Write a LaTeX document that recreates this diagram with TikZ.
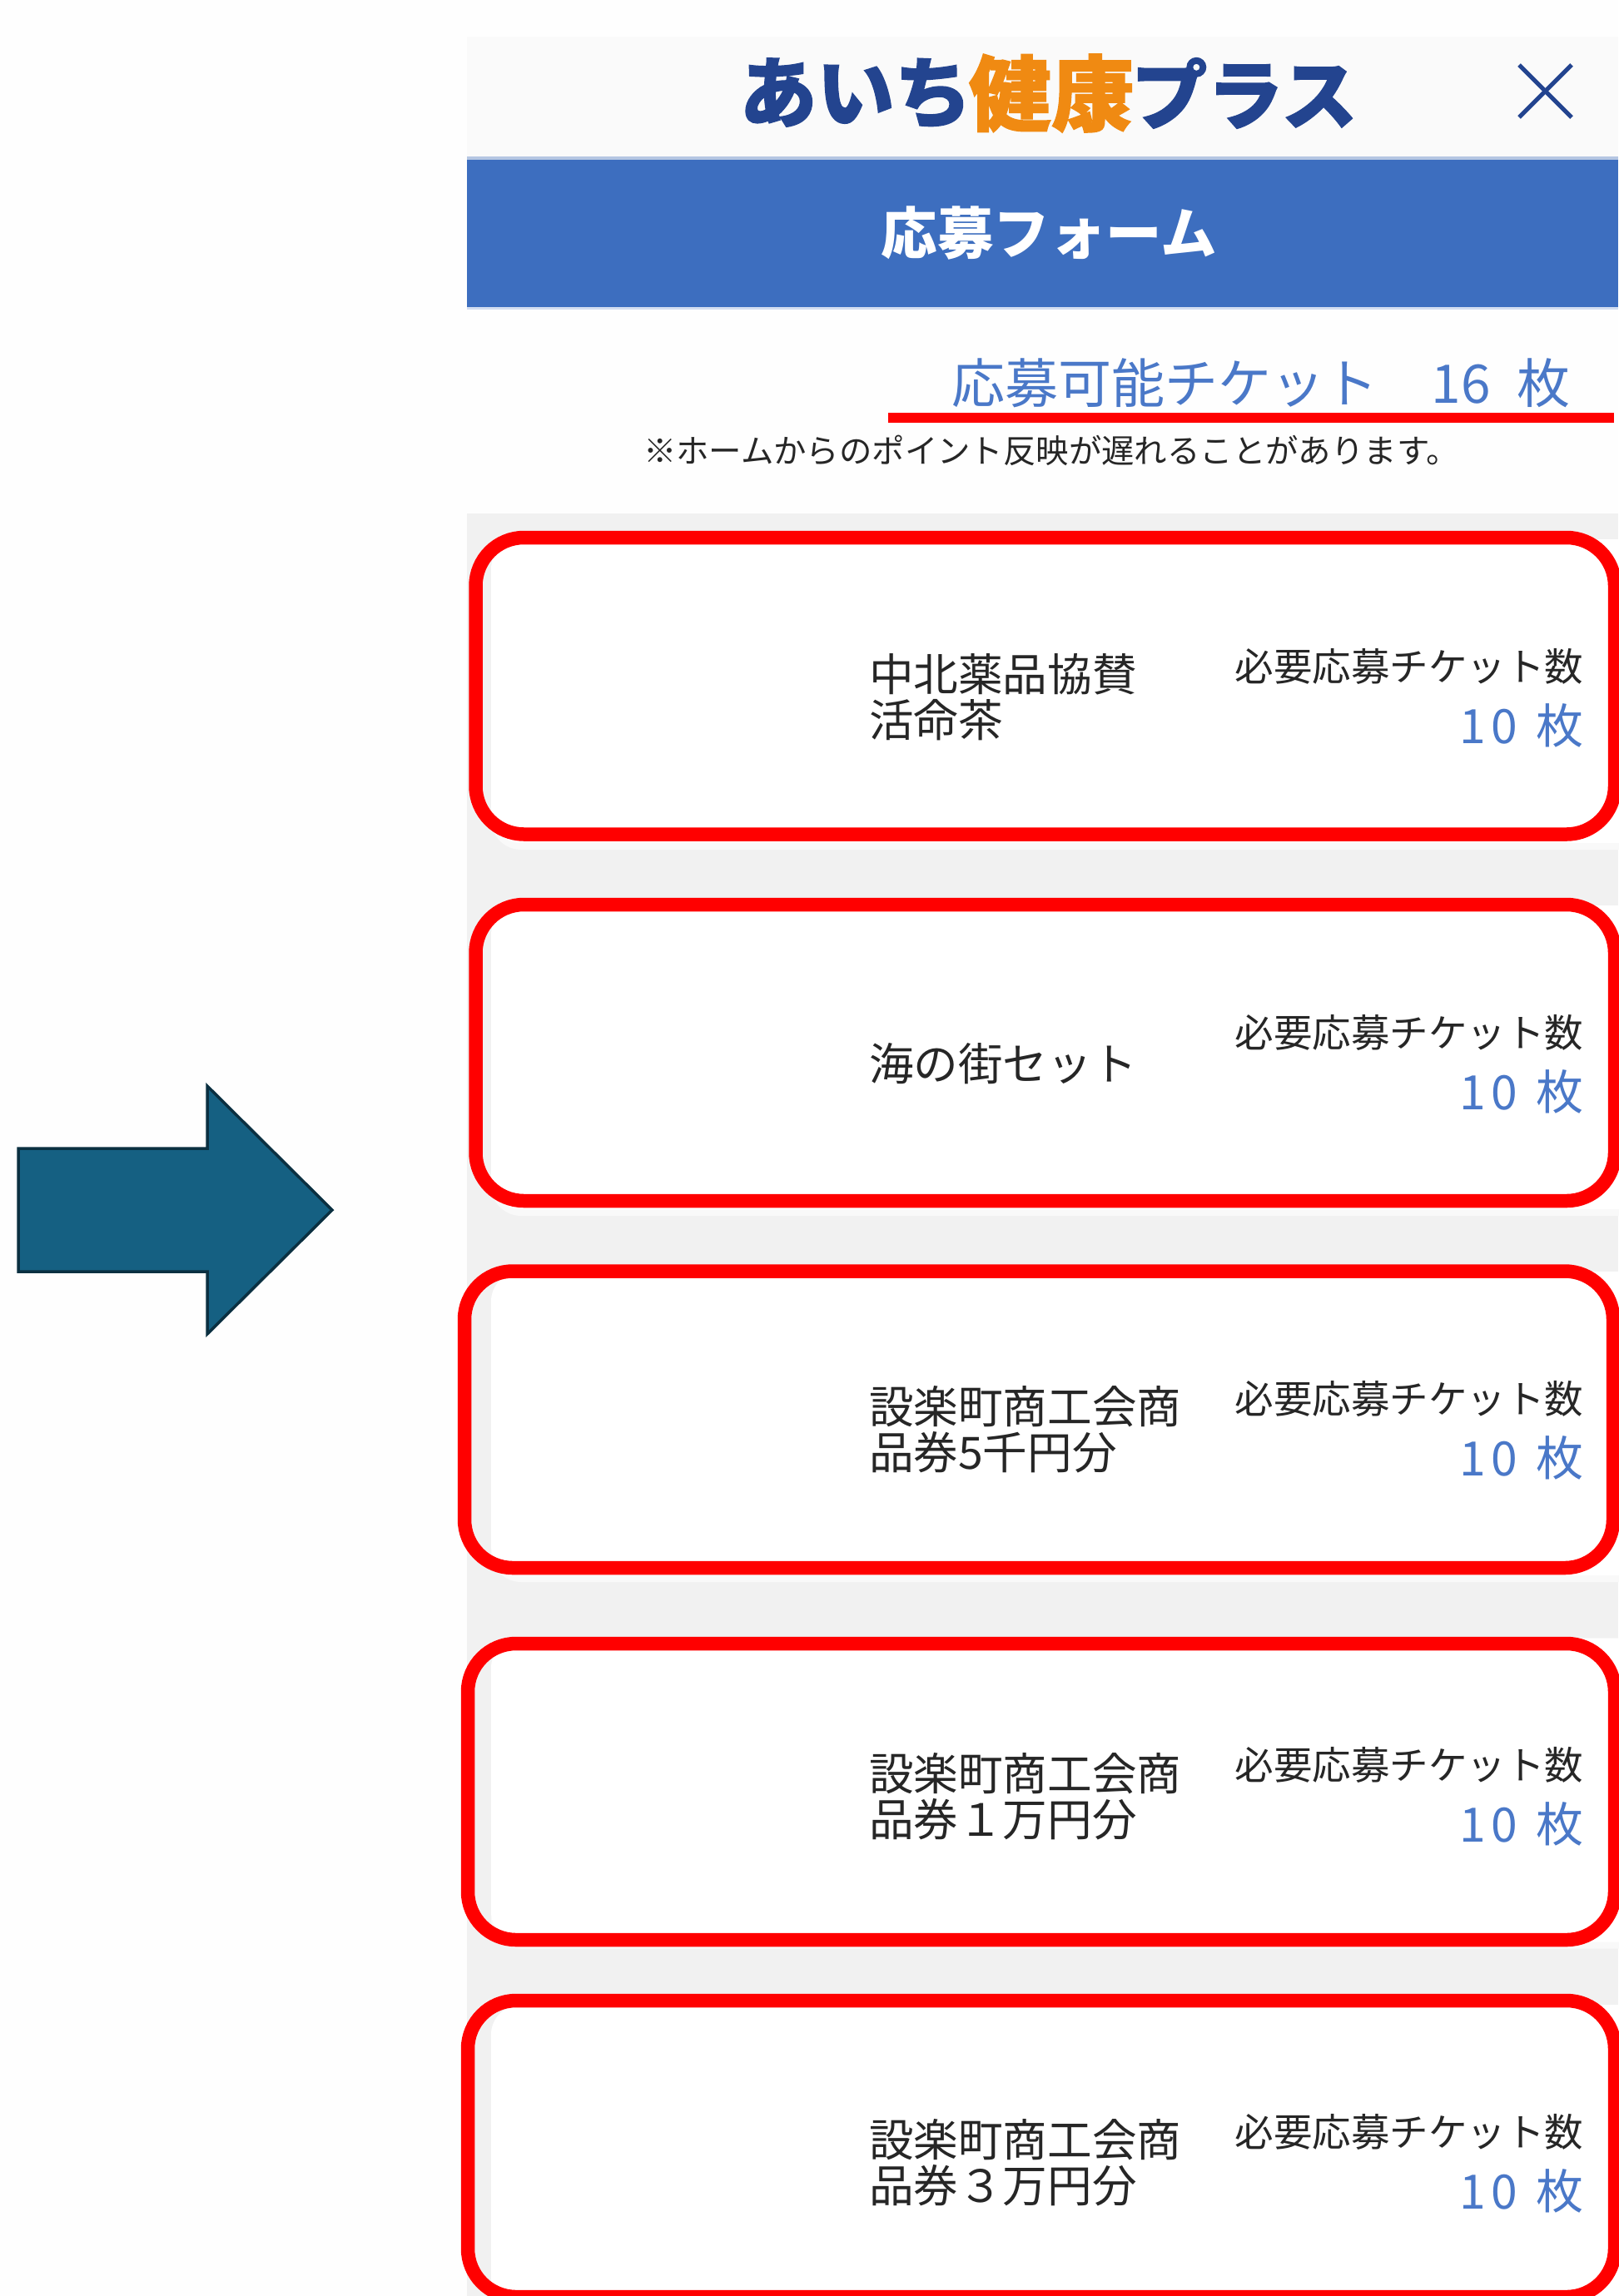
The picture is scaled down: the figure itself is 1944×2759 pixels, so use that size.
\documentclass[tikz,border=0pt]{standalone}
\usepackage{fontspec}
\setmainfont{Noto Sans CJK JP}
\definecolor{pagebg}{HTML}{FEFEFE}
\definecolor{panelgray}{HTML}{F1F1F1}
\definecolor{headbg}{HTML}{FAFAFA}
\definecolor{bandblue}{HTML}{3D6EBF}
\definecolor{bandedgeA}{HTML}{B5C6E2}
\definecolor{bandedgeB}{HTML}{D3DEF1}
\definecolor{logoblue}{HTML}{23448F}
\definecolor{logoorange}{HTML}{F08A12}
\definecolor{textblue}{HTML}{4A78C8}
\definecolor{textdark}{HTML}{262626}
\definecolor{markred}{HTML}{FF0000}
\definecolor{arrowfill}{HTML}{156082}
\definecolor{arrowline}{HTML}{0B3041}
\definecolor{softedge}{HTML}{F9F9F9}
\newcommand{\fsz}[1]{\fontsize{#1}{#1}\selectfont}
\tikzset{
  txt/.style={inner sep=0pt,outer sep=0pt},
  nametxt/.style={txt,anchor=west,align=left,text=textdark,font=\fontsize{53.6}{55}\selectfont},
  needtxt/.style={txt,anchor=base east,text=textdark,font=\fsz{46.5}},
  counttxt/.style={txt,anchor=base east,text=textblue,font=\fsz{57}},
  cardbg/.style={fill=white,rounded corners=36pt},
  cardsoft/.style={fill=softedge,rounded corners=36pt},
  redring/.style={draw=markred,line width=16.5pt,rounded corners=58pt},
}
\begin{document}
\begin{tikzpicture}[x=1pt,y=-1pt]
\useasboundingbox (0,0) rectangle (1944,2759);
\fill[pagebg] (0,0) rectangle (1944,2759);
% panel
\fill[headbg] (561,44) rectangle (1944,190);
\fill[bandblue] (561,190) rectangle (1944,370);
\fill[bandedgeA] (561,188) rectangle (1944,192);
\fill[bandedgeB] (561,369) rectangle (1944,372);
\fill[panelgray] (561,617) rectangle (1944,2759);
% arrow
\draw[fill=arrowfill,draw=arrowline,line width=3.5pt,miter limit=10]
  (22,1380) -- (249,1380) -- (249,1305) -- (399,1454) -- (249,1603) -- (249,1528) -- (22,1528) -- cycle;
% logo
\node[txt,text=logoblue,font=\bfseries\fsz{93}\addfontfeature{FakeBold=1.5}] (logoa) at (1028,112) {あいち};
\node[txt,text=logoorange,font=\bfseries\fsz{99}\addfontfeature{FakeBold=1.5}] (logob) at (1263,112) {健康};
\node[txt,text=logoblue,font=\bfseries\fsz{91}\addfontfeature{FakeBold=1.5}] (logoc) at (1495,112) {プラス};
\draw[logoblue,line width=5pt] (1825,78) -- (1888,141);
\draw[logoblue,line width=5pt] (1888,78) -- (1825,141);
% band title
\node[txt,text=white,font=\bfseries\fsz{67.5}] (title) at (1260,280) {応募フォーム};
% tickets
\node[txt,anchor=base west,text=textblue,font=\fsz{64}] (tickets) at (1143,484) {応募可能チケット\hspace{65pt}16\hspace{31pt}枚};
\fill[markred] (1067,496) rectangle (1939,508);
\node[txt,text=textdark,font=\fsz{39.4}] (note) at (1263,541) {※ホームからのポイント反映が遅れることがあります。};
% cards
\foreach \i/\cy in {1/838,2/1278,3/1718,4/2158.5,5/2599}{
  \fill[cardsoft] (590,\cy-190) rectangle (2000,\cy+183);
  \fill[cardbg] (590,\cy-190) rectangle (2000,\cy+175);
  \node[needtxt] (need\i) at (1902,\cy-20) {必要応募チケット数};
  \node[counttxt] (count\i) at (1902,\cy+55) {1\hspace{6pt}0\hspace{22pt}枚};
}
\node[nametxt] (name1) at (1044,838) {中北薬品協賛\\活命茶};
\node[nametxt] (name2) at (1044,1278) {海の街セット};
\node[nametxt] (name3) at (1044,1718) {設楽町商工会商\\品券5千円分};
\node[nametxt] (name4) at (1044,2158.5) {設楽町商工会商\\品券１万円分};
\node[nametxt] (name5) at (1044,2599) {設楽町商工会商\\品券３万円分};
% red outlines
\draw[redring] (571.5,646) rectangle (1940,1002.5);
\draw[redring] (571.5,1087) rectangle (1940,1443);
\draw[redring] (558,1527.5) rectangle (1938,1884);
\draw[redring] (562,1975) rectangle (1940,2331);
\draw[redring] (562,2404) rectangle (1940,2760);
\end{tikzpicture}
\end{document}
